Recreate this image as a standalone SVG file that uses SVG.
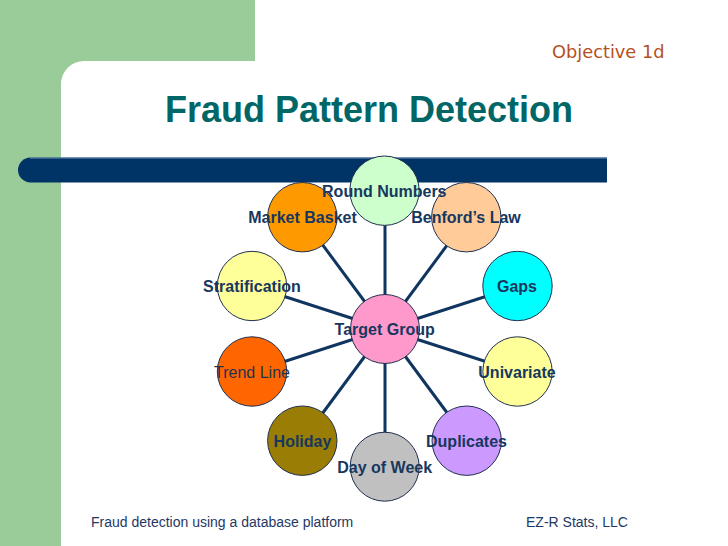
<svg xmlns="http://www.w3.org/2000/svg" width="728" height="546" viewBox="0 0 728 546">
<style>
.node circle{stroke:#1F2F4F;stroke-width:1}
.lbl{font-family:"Liberation Sans",Arial,sans-serif;font-weight:bold;font-size:16px;fill:#17375E;text-anchor:middle}
.reg{font-weight:normal;fill:#1F3350}
.conn line{stroke:#0F3560;stroke-width:3}
.foot{font-family:"Liberation Sans",Arial,sans-serif;font-size:14px;fill:#1F3864}
</style>
<rect width="728" height="546" fill="#ffffff"/>
<g id="background">
<rect x="0" y="0" width="255" height="546" fill="#99CC99"/>
<path d="M61,546 V84 A23,23 0 0 1 84,61 H255 V0 H728 V546 Z" fill="#ffffff"/>
<path d="M30.5,157.5 H607 V182.5 H30.5 A12.5,12.5 0 0 1 30.5,157.5 Z" fill="#003366"/>
<line x1="30" y1="158" x2="607" y2="158" stroke="#6E8FB0" stroke-width="1"/>
</g>
<text id="objective" x="552" y="58" font-family="DejaVu Sans,Verdana,sans-serif" font-size="17.8" fill="#B5501F">Objective 1d</text>
<text id="title" x="369" y="122" font-family="Liberation Sans,Arial,sans-serif" font-size="36" font-weight="bold" fill="#006666" text-anchor="middle">Fraud Pattern Detection</text>
<g id="connectors" class="conn">
<line x1="385" y1="329" x2="385" y2="191"/>
<line x1="385" y1="329" x2="302" y2="217"/>
<line x1="385" y1="329" x2="468" y2="217"/>
<line x1="385" y1="329" x2="252" y2="286"/>
<line x1="385" y1="329" x2="518" y2="286"/>
<line x1="385" y1="329" x2="252" y2="372"/>
<line x1="385" y1="329" x2="518" y2="372"/>
<line x1="385" y1="329" x2="302" y2="441"/>
<line x1="385" y1="329" x2="468" y2="441"/>
<line x1="385" y1="329" x2="385" y2="467"/>
</g>
<g id="node-stratification" class="node"><circle cx="252" cy="286" r="34.7" fill="#FFFF99"/><text class="lbl" x="252" y="292">Stratification</text></g>
<g id="node-gaps" class="node"><circle cx="517.5" cy="286" r="34.7" fill="#00FFFF"/><text class="lbl" x="517" y="292">Gaps</text></g>
<g id="node-trend-line" class="node"><circle cx="252" cy="371.5" r="34.7" fill="#FF6600"/><text class="lbl reg" x="252" y="378">Trend Line</text></g>
<g id="node-univariate" class="node"><circle cx="517.5" cy="371.5" r="34.7" fill="#FFFF99"/><text class="lbl" x="517" y="378">Univariate</text></g>
<g id="node-holiday" class="node"><circle cx="302.3" cy="440.7" r="34.7" fill="#9A7D04"/><text class="lbl" x="302.5" y="447">Holiday</text></g>
<g id="node-duplicates" class="node"><circle cx="466.7" cy="440.7" r="34.7" fill="#CC99FF"/><text class="lbl" x="466.5" y="447">Duplicates</text></g>
<g id="node-day-of-week" class="node"><circle cx="384.7" cy="466.7" r="34.5" fill="#C0C0C0"/><text class="lbl" x="384.7" y="472.5">Day of Week</text></g>
<g id="node-target-group" class="node"><circle cx="385" cy="329" r="34.5" fill="#FF99CC"/><text class="lbl" x="384.7" y="335">Target Group</text></g>
<g id="node-market-basket" class="node"><circle cx="302.3" cy="217.2" r="34.7" fill="#FF9900"/><text class="lbl" x="302.5" y="223">Market Basket</text></g>
<g id="node-benfords-law" class="node"><circle cx="466.3" cy="217.2" r="34.7" fill="#FFCC99"/><text class="lbl" x="466" y="223">Benford’s Law</text></g>
<g id="node-round-numbers" class="node"><circle cx="384.5" cy="190.7" r="34.7" fill="#CCFFCC"/><text class="lbl" x="384.3" y="197">Round Numbers</text></g>
<text id="footer-left" class="foot" x="91" y="527">Fraud detection using a database platform</text>
<text id="footer-right" class="foot" x="526" y="527">EZ-R Stats, LLC</text>
</svg>
